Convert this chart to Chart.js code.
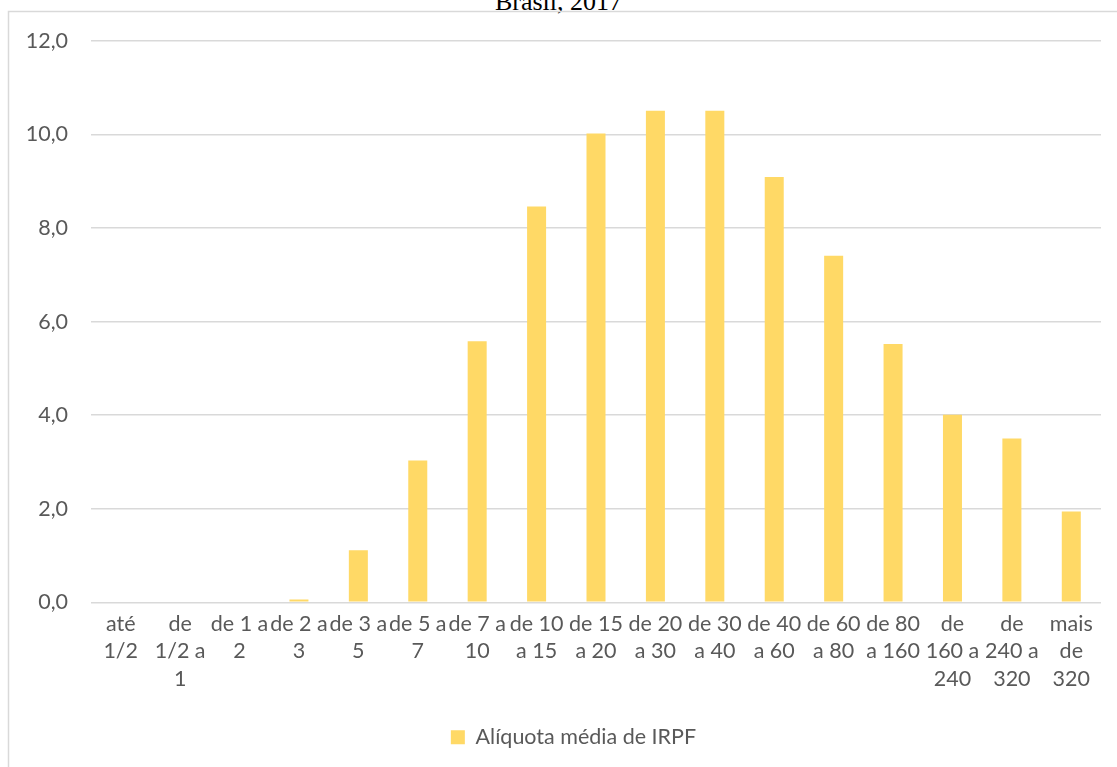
<!DOCTYPE html>
<html lang="pt-BR">
<head>
<meta charset="utf-8">
<title>Alíquota média de IRPF - Brasil, 2017</title>
<script src="https://cdn.jsdelivr.net/npm/chart.js@4/dist/chart.umd.min.js"></script>
<style>
  html, body { margin: 0; padding: 0; background: #ffffff; overflow: hidden; }
  #titulo {
    position: absolute; left: 0; top: -11px; width: 1117px;
    text-align: center; font-family: "Liberation Serif", "Times New Roman", serif;
    font-size: 26px; line-height: 26px; color: #000000;
  }
  #quadro { position: absolute; left: 0; top: 0; width: 1117px; height: 767px; }
</style>
</head>
<body>
<div id="titulo">Brasil, 2017</div>
<div id="quadro"><canvas id="grafico" width="1117" height="767"></canvas></div>
<script>
// Faixas de renda (em salários mínimos), uma por barra
const faixas = [
  ["até", "1/2"],
  ["de", "1/2 a", "1"],
  ["de 1 a", "2"],
  ["de 2 a", "3"],
  ["de 3 a", "5"],
  ["de 5 a", "7"],
  ["de 7 a", "10"],
  ["de 10", "a 15"],
  ["de 15", "a 20"],
  ["de 20", "a 30"],
  ["de 30", "a 40"],
  ["de 40", "a 60"],
  ["de 60", "a 80"],
  ["de 80", "a 160"],
  ["de", "160 a", "240"],
  ["de", "240 a", "320"],
  ["mais", "de", "320"]
];

// Alíquota média de IRPF (%) por faixa
const aliquotaMedia = [0.0, 0.0, 0.0, 0.06, 1.11, 3.03, 5.58, 8.46, 10.02, 10.51, 10.51, 9.09, 7.41, 5.52, 4.01, 3.50, 1.94];

// Eixo vertical
const eixoMin = 0;
const eixoMax = 12;
const eixoPasso = 2;

const nomeSerie = "Alíquota média de IRPF";

const corBarra = "#FFD966";
const corTexto = "#595959";
const corGrade = "#d9d9d9";
const fonte = { family: "Lato, 'Open Sans', sans-serif", size: 21.5, lineHeight: 1.28 };

// Moldura da área do gráfico
const moldura = {
  id: "moldura",
  beforeDraw(chart) {
    const ctx = chart.ctx;
    ctx.save();
    ctx.strokeStyle = corGrade;
    ctx.lineWidth = 1.5;
    ctx.strokeRect(8.5, 11.5, 1300, 1000);
    ctx.restore();
  }
};

// Centraliza a legenda sob a área útil da moldura
const posicaoLegenda = {
  id: "posicaoLegenda",
  afterLayout(chart) {
    const leg = chart.legend;
    if (leg) {
      leg.left = 46;
      leg.right = 1101;
      leg.width = leg.right - leg.left;
    }
  }
};

new Chart(document.getElementById("grafico"), {
  type: "bar",
  data: {
    labels: faixas,
    datasets: [{
      label: nomeSerie,
      data: aliquotaMedia,
      backgroundColor: corBarra,
      borderWidth: 0,
      categoryPercentage: 1.0,
      barPercentage: 0.32
    }]
  },
  options: {
    responsive: false,
    animation: false,
    devicePixelRatio: 1,
    layout: { padding: { left: 0, right: 16, top: 41, bottom: 9 } },
    plugins: {
      title: { display: false },
      tooltip: { enabled: false },
      legend: {
        position: "bottom",
        labels: {
          boxWidth: 14,
          boxHeight: 14,
          color: corTexto,
          font: fonte,
          padding: 10
        }
      }
    },
    scales: {
      x: {
        grid: { display: false, drawTicks: false },
        border: { display: false },
        ticks: {
          color: corTexto,
          font: fonte,
          autoSkip: false,
          maxRotation: 0,
          minRotation: 0,
          padding: 8
        },
        afterFit(scale) { scale.height = 114.25; }
      },
      y: {
        min: eixoMin,
        max: eixoMax,
        grid: { color: corGrade, lineWidth: 1.5, drawTicks: false },
        border: { display: false },
        ticks: {
          stepSize: eixoPasso,
          color: corTexto,
          font: fonte,
          padding: 23,
          callback: (v) => v.toFixed(1).replace(".", ",")
        },
        afterFit(scale) { scale.width = 91; }
      }
    }
  },
  plugins: [moldura, posicaoLegenda]
});
</script>
</body>
</html>
